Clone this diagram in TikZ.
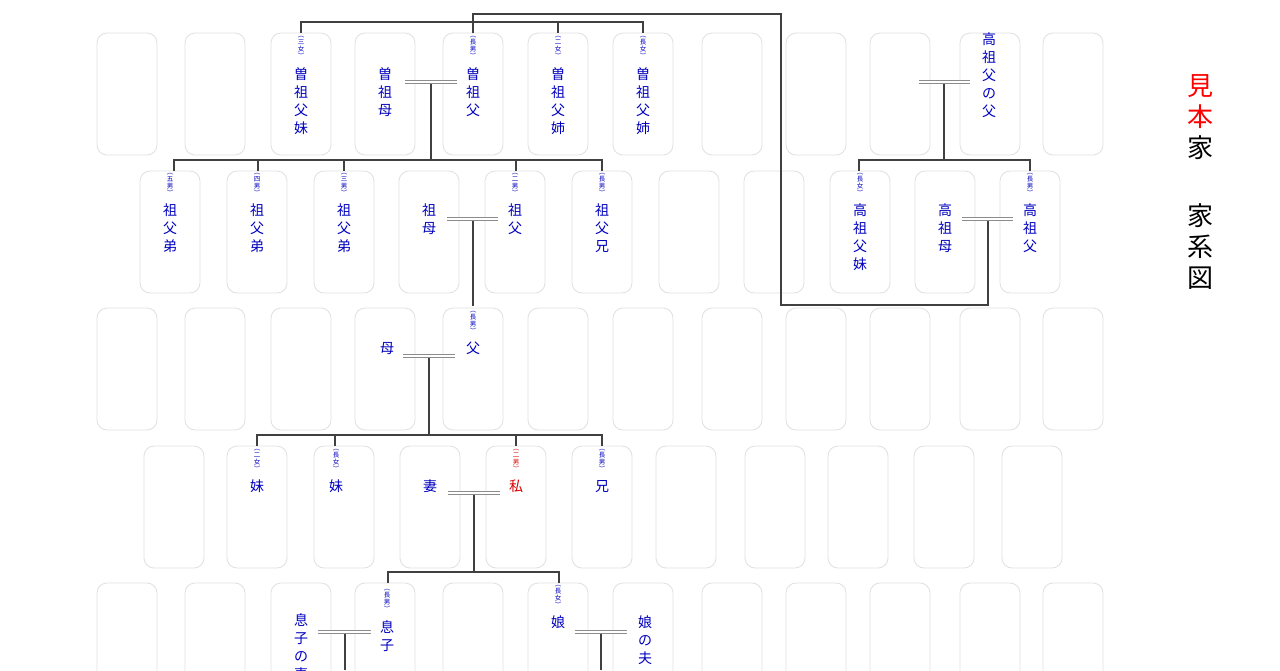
\documentclass[tikz,border=0pt]{standalone}
\usepackage{fontspec}
\newfontfamily\cjk{Noto Sans CJK JP}
\begin{document}
\begin{tikzpicture}[x=1pt,y=-1pt,
  box/.style={draw=black!12,line width=0.8pt,rounded corners=10pt},
  nm/.style={font=\cjk\fontsize{14}{18}\selectfont,text=blue!75!black,align=center,inner sep=0,anchor=north},
  an/.style={font=\cjk\fontsize{6.5}{7}\selectfont,text=blue!75!black,align=center,inner sep=0,anchor=north},
  ln/.style={draw=black!75,line width=1.2pt},
  mar/.style={draw=black!45,line width=4.5pt,postaction={draw=white,line width=1.2pt}}]
\useasboundingbox (0,0) rectangle (1280,670);
\fill[white] (0,0) rectangle (1280,670);
\newcommand\bx[2]{\draw[box] (#1-30,#2) rectangle (#1+30,#2+122);}
\newcommand\pp[5][blue!75!black]{\node[nm,text=#1] at (#2,#3) {#4};\node[an,text=#1] at (#2,#3-31) {#5};}
% boxes
\foreach \x in {127,215,301,385,473,558,643,732,816,900,990,1073} {\bx{\x}{33}\bx{\x}{308}\bx{\x}{583}}
\foreach \x in {170,257,344,429,515,602,689,774,860,945,1030} {\bx{\x}{171}}
\foreach \x in {174,257,344,430,516,602,686,775,858,944,1032} {\bx{\x}{446}}
% connectors
\draw[ln] (473,33) -- (473,14) -- (781,14) -- (781,305) -- (988,305) -- (988,219);
\draw[ln] (301,33) -- (301,22) -- (643,22) -- (643,33);
\draw[ln] (558,22) -- (558,33);
\draw[ln] (431,82) -- (431,160);
\draw[ln] (174,171) -- (174,160) -- (602,160) -- (602,171);
\foreach \x in {258,344,516} \draw[ln] (\x,160) -- (\x,171);
\draw[ln] (944,82) -- (944,160);
\draw[ln] (859,171) -- (859,160) -- (1030,160) -- (1030,171);
\draw[ln] (473,219) -- (473,306);
\draw[ln] (429,356) -- (429,435);
\draw[ln] (257,446) -- (257,435) -- (602,435) -- (602,446);
\foreach \x in {335,516} \draw[ln] (\x,435) -- (\x,446);
\draw[ln] (474,493) -- (474,572);
\draw[ln] (388,583) -- (388,572) -- (559,572) -- (559,583);
\draw[ln] (345,632) -- (345,670);
\draw[ln] (601,632) -- (601,670);
% marriages
\draw[mar] (405,82) -- (457,82);
\draw[mar] (919,82) -- (970,82);
\draw[mar] (447,219) -- (498,219);
\draw[mar] (962,219) -- (1013,219);
\draw[mar] (403,356) -- (455,356);
\draw[mar] (448,493) -- (500,493);
\draw[mar] (318,632) -- (371,632);
\draw[mar] (575,632) -- (627,632);
% row 1
\pp{301}{67}{曽\\祖\\父\\妹}{︵\\三\\女\\︶}
\pp{385}{67}{曽\\祖\\母}{}
\pp{473}{67}{曽\\祖\\父}{︵\\長\\男\\︶}
\pp{558}{67}{曽\\祖\\父\\姉}{︵\\二\\女\\︶}
\pp{643}{67}{曽\\祖\\父\\姉}{︵\\長\\女\\︶}
\pp{989}{33}{高\\祖\\父\\の\\父}{}
% row 2
\pp{170}{204}{祖\\父\\弟}{︵\\五\\男\\︶}
\pp{257}{204}{祖\\父\\弟}{︵\\四\\男\\︶}
\pp{344}{204}{祖\\父\\弟}{︵\\三\\男\\︶}
\pp{429}{204}{祖\\母}{}
\pp{515}{204}{祖\\父}{︵\\二\\男\\︶}
\pp{602}{204}{祖\\父\\兄}{︵\\長\\男\\︶}
\pp{860}{204}{高\\祖\\父\\妹}{︵\\長\\女\\︶}
\pp{945}{204}{高\\祖\\母}{}
\pp{1030}{204}{高\\祖\\父}{︵\\長\\男\\︶}
% row 3
\pp{387}{342}{母}{}
\pp{473}{342}{父}{︵\\長\\男\\︶}
% row 4
\pp{257}{480}{妹}{︵\\二\\女\\︶}
\pp{336}{480}{妹}{︵\\長\\女\\︶}
\pp{430}{480}{妻}{}
\pp[red!85!black]{516}{480}{私}{︵\\二\\男\\︶}
\pp{602}{480}{兄}{︵\\長\\男\\︶}
% row 5
\pp{301}{613}{息\\子\\の\\妻}{}
\pp{387}{620}{息\\子}{︵\\長\\男\\︶}
\pp{558}{616}{娘}{︵\\長\\女\\︶}
\pp{645}{616}{娘\\の\\夫}{}
% title
\node[font=\cjk\fontsize{26}{31}\selectfont,align=center,inner sep=0,anchor=north] at (1200,74) {\textcolor{red}{見}\\\textcolor{red}{本}\\家};
\node[font=\cjk\fontsize{26}{31}\selectfont,align=center,inner sep=0,anchor=north] at (1200,203) {家\\系\\図};
\end{tikzpicture}
\end{document}
